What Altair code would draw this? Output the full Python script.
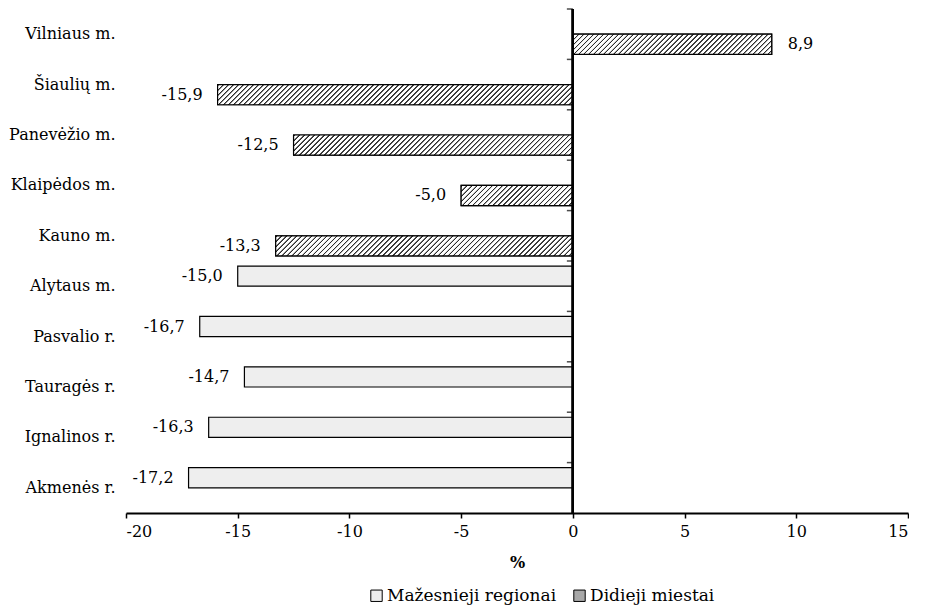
import altair as alt
import pandas as pd

categories = ["Vilniaus m.", "Šiaulių m.", "Panevėžio m.", "Klaipėdos m.", "Kauno m.",
              "Alytaus m.", "Pasvalio r.", "Tauragės r.", "Ignalinos r.", "Akmenės r."]
groups = ["Didieji miestai"] * 5 + ["Mažesnieji regionai"] * 5
values = [8.9, -15.9, -12.5, -5.0, -13.3, -15.0, -16.7, -14.7, -16.3, -17.2]
series_order = ["Mažesnieji regionai", "Didieji miestai"]
x_ticks = [-20, -15, -10, -5, 0, 5, 10, 15]

df = pd.DataFrame({
    "category": categories,
    "group": groups,
    "value": values,
    "label": [f"{v:.1f}".replace(".", ",") for v in values],
})

FONT = "DejaVu Serif"
FS = 16
W, H = 782, 504
X_MIN, X_MAX = -20, 15
x_scale = alt.Scale(domain=[X_MIN, X_MAX], nice=False, zero=False)
y_scale = alt.Scale(paddingInner=0, paddingOuter=0)
yo_scale = alt.Scale(paddingInner=0, paddingOuter=0.25)

# diagonal hatch fill ("/" lines, ~5px apart) as a striped linear gradient
HATCH_PERIOD = 5.0
BAR_H = H / len(categories) / 2.5
LINE = "#2b2b2b"


def hatch_fill(value):
    wb = abs(value) * W / (X_MAX - X_MIN)
    s = BAR_H / wb
    lam = (1 + s) / (1 + s * s)
    n = max(1, round((wb + BAR_H) / HATCH_PERIOD))
    stops = []
    for k in range(n):
        stops += [{"offset": k / n, "color": "#ffffff"},
                  {"offset": (k + 0.12) / n, "color": LINE},
                  {"offset": (k + 0.30) / n, "color": LINE},
                  {"offset": (k + 0.42) / n, "color": "#ffffff"}]
    stops.append({"offset": 1, "color": "#ffffff"})
    return {"gradient": "linear", "x1": 0, "y1": 0, "x2": lam, "y2": lam * s,
            "stops": stops}


base = alt.Chart(df)

x_enc = alt.X("value:Q", scale=x_scale,
              axis=alt.Axis(values=x_ticks, title="%", grid=False,
                            labelExpr="datum.value + ''",
                            domainColor="black", domainWidth=2,
                            tickColor="black", tickSize=5, tickWidth=1.5,
                            labelPadding=5, titlePadding=15,
                            titleFontWeight="bold"))

bars = base.mark_bar(stroke="black", strokeWidth=1.2, cornerRadius=0).encode(
    x=x_enc,
    x2=alt.datum(0),
    y=alt.Y("category:N", sort=categories, scale=y_scale, title=None,
            axis=alt.Axis(domain=False, ticks=False, labelPadding=11,
                          labelAlign="right")),
    yOffset=alt.YOffset("group:N", sort=series_order, scale=yo_scale),
    color=alt.Color("group:N", sort=series_order,
                    scale=alt.Scale(domain=series_order, range=["#eeeeee", "#a8a8a8"]),
                    legend=alt.Legend(title=None, orient="none", direction="horizontal",
                                      legendX=242, legendY=578, labelLimit=400,
                                      symbolType="square", symbolSize=130,
                                      symbolStrokeColor="black", symbolStrokeWidth=1,
                                      labelFontSize=FS + 1, labelFont=FONT, labelOffset=2,
                                      columnPadding=14)),
)

hatch_layers = []
for cat, grp, val in zip(categories, groups, values):
    if grp != "Didieji miestai":
        continue
    hatch_layers.append(
        base.transform_filter(alt.datum.category == cat).mark_bar(
            fill=hatch_fill(val), stroke="black", strokeWidth=1.2, cornerRadius=0
        ).encode(
            x=alt.X("value:Q", scale=x_scale),
            x2=alt.datum(0),
            y=alt.Y("category:N", sort=categories, scale=y_scale),
            yOffset=alt.YOffset("group:N", sort=series_order, scale=yo_scale),
        )
    )

zero_line = base.mark_rule(color="black", strokeWidth=2).encode(x=alt.datum(0))

boundary_ticks = base.mark_tick(color="black", thickness=1.5, size=6, xOffset=-3,
                                orient="horizontal").encode(
    x=alt.datum(0),
    y=alt.Y("category:N", sort=categories, scale=y_scale, bandPosition=0),
)

neg_text = base.transform_filter("datum.value < 0").mark_text(
    align="right", baseline="middle", dx=-15, font=FONT, fontSize=FS, color="black"
).encode(
    x=alt.X("value:Q", scale=x_scale),
    y=alt.Y("category:N", sort=categories, scale=y_scale),
    yOffset=alt.YOffset("group:N", sort=series_order, scale=yo_scale),
    text="label:N",
)

pos_text = base.transform_filter("datum.value >= 0").mark_text(
    align="left", baseline="middle", dx=16, font=FONT, fontSize=FS, color="black"
).encode(
    x=alt.X("value:Q", scale=x_scale),
    y=alt.Y("category:N", sort=categories, scale=y_scale),
    yOffset=alt.YOffset("group:N", sort=series_order, scale=yo_scale),
    text="label:N",
)

chart = alt.layer(bars, *hatch_layers, zero_line, boundary_ticks, neg_text, pos_text).properties(
    width=W, height=H,
    padding={"left": 0, "top": 0, "right": 0, "bottom": 4},
).configure_view(stroke=None).configure_axis(
    labelFont=FONT, titleFont=FONT, labelFontSize=FS, titleFontSize=FS,
    labelColor="black", titleColor="black",
).configure_text(font=FONT).configure_legend(labelFont=FONT)

chart.save("out.html", embed_options={"renderer": "svg", "actions": False})
